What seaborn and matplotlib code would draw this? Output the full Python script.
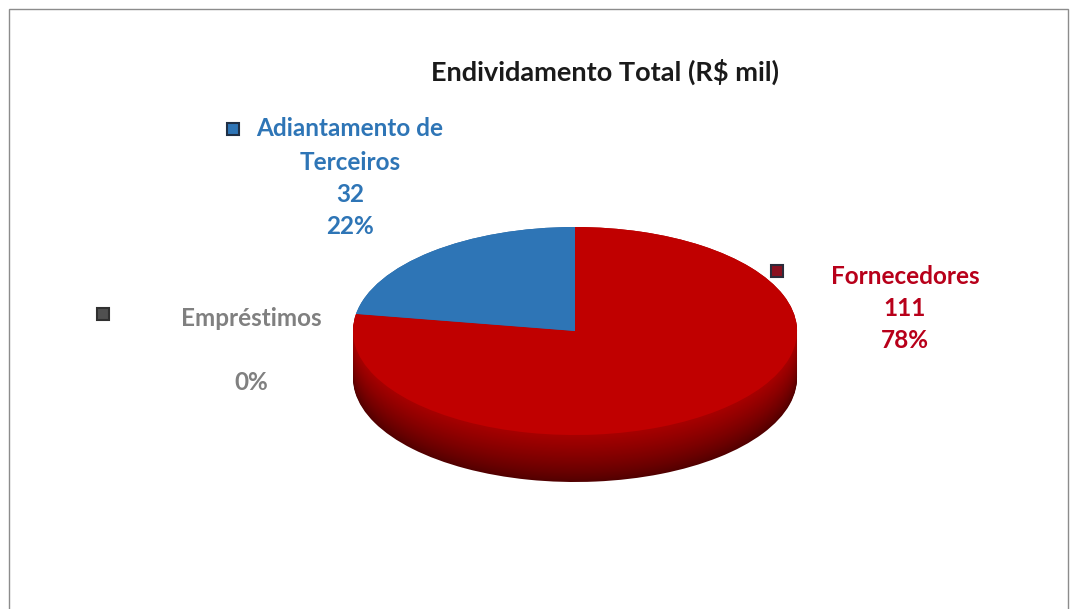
import numpy as np
import seaborn as sns
import matplotlib.pyplot as plt
from matplotlib.colors import to_rgb
from matplotlib.patches import Rectangle

# data
categorias = ["Fornecedores", "Adiantamento de\nTerceiros", "Empréstimos"]
valores = [111, 32, 0]
cores = ["#C00000", "#2E75B6", "#7F7F7F"]
titulo = "Endividamento Total (R\\$ mil)"

sns.set_theme(style="white")
plt.rcParams['font.family'] = ['Lato', 'DejaVu Sans']

W, H = 1077, 609
fig = plt.figure(figsize=(W / 100, H / 100), dpi=100)
fig.patch.set_facecolor("white")

def fx(x):
    return x / W

def fy(y):
    return 1 - y / H

# pie area in pixels: top face ellipse + side thickness
left, right, top, bottom = 353, 797, 227, 482
ry_px = 104
depth = (bottom - top - 2 * ry_px) / ry_px

ax = fig.add_axes([fx(left), fy(bottom), (right - left) / W, (bottom - top) / H])

def escurecer(c, f):
    r, g, b = to_rgb(c)
    return (r * f, g * f, b * f)

# side of the 3D pie: stacked darker layers
n = 45
for i, d in enumerate(np.linspace(depth, 0.0, n)):
    f = 0.42 + 0.45 * (i / (n - 1)) ** 0.8
    ax.pie(valores, colors=[escurecer(c, f) for c in cores], startangle=90,
           counterclock=False, center=(0, -d), radius=1,
           wedgeprops=dict(linewidth=0))

# top face
ax.pie(valores, colors=cores, startangle=90, counterclock=False,
       center=(0, 0), radius=1, wedgeprops=dict(linewidth=0))

ax.set_aspect("auto")
ax.set_xlim(-1, 1)
ax.set_ylim(-1 - depth, 1)
ax.axis("off")

# title
fig.text(fx(605), fy(72), titulo, ha="center", va="center",
         fontsize=19.5, fontweight="bold", color="#1a1a1a")

total = sum(valores)
pcts = [f"{round(v / total * 100):.0f}%" for v in valores]

# data labels
lab_font = dict(fontsize=17.5, fontweight="bold", ha="center", va="center")

# Fornecedores
fig.text(fx(905), fy(276), categorias[0], color="#B8001A", **lab_font)
fig.text(fx(905), fy(309), str(valores[0]), color="#B8001A", **lab_font)
fig.text(fx(905), fy(341), pcts[0], color="#B8001A", **lab_font)

# Adiantamento de Terceiros
l1, l2 = categorias[1].split("\n")
fig.text(fx(350), fy(129), l1, color=cores[1], **lab_font)
fig.text(fx(350), fy(162), l2, color=cores[1], **lab_font)
fig.text(fx(350), fy(195), str(valores[1]), color=cores[1], **lab_font)
fig.text(fx(350), fy(227), pcts[1], color=cores[1], **lab_font)

# Empréstimos
fig.text(fx(251), fy(319), categorias[2], color="#808080", **lab_font)
fig.text(fx(251), fy(382), pcts[2], color="#808080", **lab_font)

# legend keys next to labels
def chave(x, y, face, edge):
    s = 12
    fig.patches.append(Rectangle((fx(x - s / 2), fy(y + s / 2)), s / W, s / H,
                                 transform=fig.transFigure, facecolor=face,
                                 edgecolor=edge, linewidth=1.5))

chave(233, 129, cores[1], "#1f2f45")
chave(777, 271, "#8a1020", "#2b2b3a")
chave(103, 314, "#505050", "#303030")

# outer border
fig.patches.append(Rectangle((fx(9), fy(640)), (1068 - 9) / W, (640 - 9) / H,
                             transform=fig.transFigure, fill=False,
                             edgecolor="#8c8c8c", linewidth=1))

fig.savefig("out.png", dpi=100)
